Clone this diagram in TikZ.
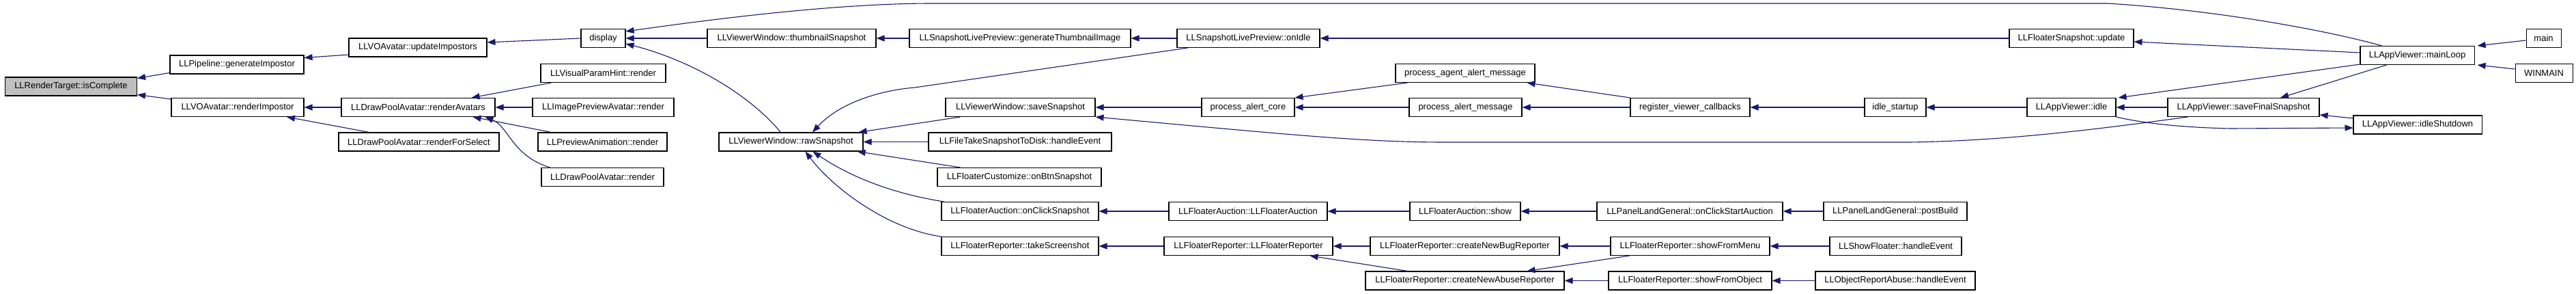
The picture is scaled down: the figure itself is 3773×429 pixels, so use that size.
\documentclass[tikz,border=0pt]{standalone}
\usepackage{fontspec}
\setmainfont{Liberation Sans}
\usetikzlibrary{arrows.meta}
\definecolor{mblue}{RGB}{25,25,112}
\definecolor{hilite}{RGB}{191,191,191}
\begin{document}
\begin{tikzpicture}[x=1pt,y=-1pt,
  fn/.style={draw=black, line width=1.1pt, fill=white, minimum height=27pt, inner sep=0pt, font=\fontsize{13}{15}\selectfont},
  edge/.style={draw=mblue, line width=1.1pt, {Triangle[length=12pt,width=9pt]}-}]
\fill[white] (0,0) rectangle (3773,429);
\useasboundingbox (0,0) rectangle (3773,429);

% ---------- nodes ----------
\node[fn, minimum width=193pt, fill=hilite] (isC) at (104,126.5) {LLRenderTarget::isComplete};
\node[fn, minimum width=196pt] (genImp) at (347,94.5) {LLPipeline::generateImpostor};
\node[fn, minimum width=194pt] (renImp) at (348,157) {LLVOAvatar::renderImpostor};
\node[fn, minimum width=202pt] (updImp) at (612,69.5) {LLVOAvatar::updateImpostors};
\node[fn, minimum width=225pt] (renAv) at (612.5,157) {LLDrawPoolAvatar::renderAvatars};
\node[fn, minimum width=235pt] (renSel) at (613.5,207.5) {LLDrawPoolAvatar::renderForSelect};
\node[fn, minimum width=65pt] (disp) at (883.5,56) {display};
\node[fn, minimum width=247pt] (thumb) at (1159.5,56) {LLViewerWindow::thumbnailSnapshot};
\node[fn, minimum width=183pt] (vph) at (883.5,107) {LLVisualParamHint::render};
\node[fn, minimum width=207pt] (ipa) at (883.5,157) {LLImagePreviewAvatar::render};
\node[fn, minimum width=189pt] (pan) at (882.5,207.5) {LLPreviewAnimation::render};
\node[fn, minimum width=179pt] (dpa) at (882.5,259) {LLDrawPoolAvatar::render};
\node[fn, minimum width=211pt] (raw) at (1158.5,207.5) {LLViewerWindow::rawSnapshot};
\node[fn, minimum width=324pt] (genThumb) at (1494,56) {LLSnapshotLivePreview::generateThumbnailImage};
\node[fn, minimum width=209pt] (onIdle) at (1828.5,56) {LLSnapshotLivePreview::onIdle};
\node[fn, minimum width=219pt] (saveSnap) at (1494.5,157) {LLViewerWindow::saveSnapshot};
\node[fn, minimum width=136pt] (alertCore) at (1828,157) {process\_alert\_core};
\node[fn, minimum width=268pt] (fileTake) at (1494,207.5) {LLFileTakeSnapshotToDisk::handleEvent};
\node[fn, minimum width=240pt] (custom) at (1493,259) {LLFloaterCustomize::onBtnSnapshot};
\node[fn, minimum width=230pt] (aucSnap) at (1494,309) {LLFloaterAuction::onClickSnapshot};
\node[fn, minimum width=232pt] (aucCtor) at (1828,309) {LLFloaterAuction::LLFloaterAuction};
\node[fn, minimum width=230pt] (takeShot) at (1494,360) {LLFloaterReporter::takeScreenshot};
\node[fn, minimum width=247pt] (repCtor) at (1828.5,360) {LLFloaterReporter::LLFloaterReporter};
\node[fn, minimum width=204pt] (agentAlert) at (2146,107) {process\_agent\_alert\_message};
\node[fn, minimum width=165pt] (alertMsg) at (2146.5,157) {process\_alert\_message};
\node[fn, minimum width=175pt] (regCb) at (2475.5,157) {register\_viewer\_callbacks};
\node[fn, minimum width=162pt] (aucShow) at (2146,309) {LLFloaterAuction::show};
\node[fn, minimum width=272pt] (startAuc) at (2475,309) {LLPanelLandGeneral::onClickStartAuction};
\node[fn, minimum width=277pt] (bugRep) at (2145.5,360) {LLFloaterReporter::createNewBugReporter};
\node[fn, minimum width=233pt] (fromMenu) at (2475.5,360) {LLFloaterReporter::showFromMenu};
\node[fn, minimum width=291pt] (abuseRep) at (2145.5,410.5) {LLFloaterReporter::createNewAbuseReporter};
\node[fn, minimum width=239pt] (fromObj) at (2475.5,410.5) {LLFloaterReporter::showFromObject};
\node[fn, minimum width=182pt] (fsUpdate) at (3034,56) {LLFloaterSnapshot::update};
\node[fn, minimum width=90pt] (idleStart) at (2776,157) {idle\_startup};
\node[fn, minimum width=130pt] (idle) at (3034,157) {LLAppViewer::idle};
\node[fn, minimum width=222pt] (saveFinal) at (3286,157) {LLAppViewer::saveFinalSnapshot};
\node[fn, minimum width=210pt] (postBuild) at (2776,309) {LLPanelLandGeneral::postBuild};
\node[fn, minimum width=193pt] (showFl) at (2776.5,360) {LLShowFloater::handleEvent};
\node[fn, minimum width=234pt] (objRep) at (2776,410.5) {LLObjectReportAbuse::handleEvent};
\node[fn, minimum width=167pt] (mainLoop) at (3540.5,81) {LLAppViewer::mainLoop};
\node[fn, minimum width=51pt] (mainF) at (3725.5,56) {main};
\node[fn, minimum width=84pt] (winmain) at (3726,107) {WINMAIN};
\node[fn, minimum width=188pt] (idleShut) at (3541,182.5) {LLAppViewer::idleShutdown};

% ---------- edges (arrow tip at callee) ----------
\draw[edge] ([shift={(0,-12)}]isC.east) -- ([shift={(0,12)}]genImp.west);
\draw[edge] ([shift={(0,12)}]isC.east) -- ([shift={(0,-12)}]renImp.west);
\draw[edge] ([shift={(0,-10)}]genImp.east) -- ([shift={(0,10.5)}]updImp.west);
\draw[edge] (renImp.east) -- (renAv.west);
\draw[edge] ([shift={(72,0)}]renImp.south) -- ([shift={(-73,0)}]renSel.north);
\draw[edge] ([shift={(0,-7.5)}]updImp.east) -- (disp.west);
\draw[edge] ([shift={(0,-10)}]disp.east) .. controls (1100,20) and (1250,5) .. (1365,5) -- (3087,5) .. controls (3250,15) and (3410,45) .. ([shift={(-52,0)}]mainLoop.north);
\draw[edge] (disp.east) -- (thumb.west);
\draw[edge] ([shift={(0,8)}]disp.east) .. controls (1000,85) and (1090,130) .. ([shift={(-15,0)}]raw.north);
\draw[edge] ([shift={(-35,0)}]renAv.north east) -- ([shift={(16,0)}]vph.south west);
\draw[edge] (renAv.east) -- (ipa.west);
\draw[edge] ([shift={(-33,0)}]renAv.south east) -- ([shift={(20,0)}]pan.north west);
\draw[edge] ([shift={(-15,0)}]renAv.south east) .. controls (745,185) and (750,228) .. ([shift={(13,0)}]dpa.north west);
\draw[edge] (thumb.east) -- (genThumb.west);
\draw[edge] (genThumb.east) -- (onIdle.west);
\draw[edge] (onIdle.east) -- (fsUpdate.west);
\draw[edge] ([shift={(0,5)}]fsUpdate.east) -- ([shift={(0,-4)}]mainLoop.west);
\draw[edge] ([shift={(31.5,0)}]raw.north) .. controls (1230,150) and (1290,132) .. (1340,128) -- ([shift={(16,0)}]onIdle.south west);
\draw[edge] ([shift={(-7,0)}]raw.north east) -- ([shift={(22,0)}]saveSnap.south west);
\draw[edge] (raw.east) -- (fileTake.west);
\draw[edge] ([shift={(-9,0)}]raw.south east) -- ([shift={(34,0)}]custom.north west);
\draw[edge] ([shift={(32,0)}]raw.south) .. controls (1240,255) and (1300,282) .. ([shift={(4,0)}]aucSnap.north west);
\draw[edge] ([shift={(21,0)}]raw.south) .. controls (1220,275) and (1300,335) .. (takeShot.north west);
\draw[edge] (saveSnap.east) -- (alertCore.west);
\draw[edge] (saveSnap.south east) .. controls (1900,198) and (2000,208) .. (2117,208) -- (2796,208) .. controls (2950,206) and (3100,185) .. ([shift={(30,0)}]saveFinal.south west);
\draw[edge] (alertCore.north east) -- ([shift={(18,0)}]agentAlert.south west);
\draw[edge] (alertCore.east) -- (alertMsg.west);
\draw[edge] ([shift={(-12,0)}]agentAlert.south east) -- (regCb.north west);
\draw[edge] (alertMsg.east) -- (regCb.west);
\draw[edge] (regCb.east) -- (idleStart.west);
\draw[edge] (idleStart.east) -- (idle.west);
\draw[edge] ([shift={(3,0)}]idle.north east) -- ([shift={(0,-1)}]mainLoop.south west);
\draw[edge] (idle.east) -- (saveFinal.west);
\draw[edge] ([shift={(54,0)}]saveFinal.north) -- ([shift={(-45,0)}]mainLoop.south);
\draw[edge] ([shift={(0,11)}]saveFinal.east) -- ([shift={(0,-9.5)}]idleShut.west);
\draw[edge] ([shift={(0,4.5)}]idleShut.west) -- (3267,188) .. controls (3180,186) and (3130,178) .. (idle.south east);
\draw[edge] ([shift={(4,0)}]mainLoop.north east) -- ([shift={(0,3)}]mainF.west);
\draw[edge] ([shift={(4,0)}]mainLoop.south east) -- ([shift={(0,-6)}]winmain.west);
\draw[edge] (aucSnap.east) -- (aucCtor.west);
\draw[edge] (aucCtor.east) -- (aucShow.west);
\draw[edge] (aucShow.east) -- (startAuc.west);
\draw[edge] (startAuc.east) -- (postBuild.west);
\draw[edge] (takeShot.east) -- (repCtor.west);
\draw[edge] (repCtor.east) -- (bugRep.west);
\draw[edge] ([shift={(-34,0)}]repCtor.south east) -- ([shift={(62,0)}]abuseRep.north west);
\draw[edge] (bugRep.east) -- (fromMenu.west);
\draw[edge] ([shift={(-55,0)}]abuseRep.north east) -- ([shift={(28,0)}]fromMenu.south west);
\draw[edge] (abuseRep.east) -- (fromObj.west);
\draw[edge] (fromMenu.east) -- (showFl.west);
\draw[edge] (fromObj.east) -- (objRep.west);
\end{tikzpicture}
\end{document}
